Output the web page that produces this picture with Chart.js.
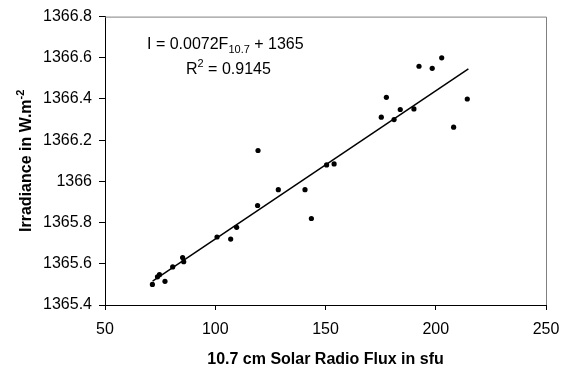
<!DOCTYPE html>
<html>
<head>
<meta charset="utf-8">
<script src="https://cdn.jsdelivr.net/npm/chart.js@4.4.1/dist/chart.umd.min.js"></script>
<style>
  html, body { margin: 0; padding: 0; background: #fff; }
  #chart { display: block; }
</style>
</head>
<body>
<canvas id="chart" width="574" height="368"></canvas>
<script>
// solar radio flux (sfu) and irradiance (W/m2)
const flux = [71.5, 73.8, 74.7, 77.2, 80.7, 85.2, 85.7, 100.8, 107, 109.7, 119.2, 119.4, 128.6,
    140.7, 143.6, 150.5, 153.9, 175.3, 177.6, 181.1, 183.9, 190.1, 192.4, 198.4, 202.7, 208.1, 214.3];
const irradiance = [1365.50, 1365.537, 1365.547, 1365.515, 1365.585, 1365.63, 1365.61, 1365.73, 1365.72,
    1365.777, 1365.883, 1366.15, 1365.96, 1365.96, 1365.82, 1366.08, 1366.085, 1366.312, 1366.408,
    1366.30, 1366.349, 1366.352, 1366.559, 1366.549, 1366.60, 1366.263, 1366.40];

// linear fit shown on the chart
const fitSlope = 0.0072;
const fitIntercept = 1365.0;
const fitRange = [71.6, 214.8];

const xTicks = [50, 100, 150, 200, 250];
const yTicks = [1365.4, 1365.6, 1365.8, 1366, 1366.2, 1366.4, 1366.6, 1366.8];

const FONT = '"Liberation Sans", Arial, sans-serif';

const points = flux.map((f, i) => ({ x: f, y: irradiance[i] }));
const fitLine = fitRange.map(f => ({ x: f, y: fitSlope * f + fitIntercept }));

// draws the frame, axis titles and the equation (needs super/subscripts)
const extras = {
    id: 'extras',
    beforeDatasetsDraw(chart) {
        const { ctx, chartArea: a } = chart;
        ctx.save();
        ctx.strokeStyle = '#808080';
        ctx.lineWidth = 1;
        ctx.beginPath();
        ctx.moveTo(a.left, a.top + 0.5);
        ctx.lineTo(a.right + 0.5, a.top + 0.5);
        ctx.lineTo(a.right + 0.5, a.bottom);
        ctx.stroke();
        ctx.restore();
    },
    afterDraw(chart) {
        const { ctx, chartArea: a } = chart;
        ctx.save();
        ctx.fillStyle = '#000';
        ctx.textBaseline = 'alphabetic';

        // x title
        ctx.font = 'bold 16px ' + FONT;
        ctx.textAlign = 'center';
        ctx.fillText('10.7 cm Solar Radio Flux in sfu', (a.left + a.right) / 2, 364);

        // y title
        ctx.save();
        ctx.translate(31, (a.top + a.bottom) / 2);
        ctx.rotate(-Math.PI / 2);
        ctx.textAlign = 'left';
        const main = 'Irradiance in W.m';
        ctx.font = 'bold 16px ' + FONT;
        const w1 = ctx.measureText(main).width;
        ctx.font = 'bold 11px ' + FONT;
        const w2 = ctx.measureText('-2').width;
        let x0 = -(w1 + w2) / 2;
        ctx.font = 'bold 16px ' + FONT;
        ctx.fillText(main, x0, 0);
        ctx.font = 'bold 11px ' + FONT;
        ctx.fillText('-2', x0 + w1, -7);
        ctx.restore();

        // equation
        ctx.textAlign = 'left';
        let x = 147;
        ctx.font = '16px ' + FONT;
        ctx.fillText('I = 0.0072F', x, 49);
        x += ctx.measureText('I = 0.0072F').width;
        ctx.font = '11px ' + FONT;
        ctx.fillText('10.7', x, 53);
        x += ctx.measureText('10.7').width;
        ctx.font = '16px ' + FONT;
        ctx.fillText(' + 1365', x, 49);

        x = 186;
        ctx.fillText('R', x, 74);
        x += ctx.measureText('R').width;
        ctx.font = '11px ' + FONT;
        ctx.fillText('2', x, 67);
        x += ctx.measureText('2').width;
        ctx.font = '16px ' + FONT;
        ctx.fillText(' = 0.9145', x, 74);
        ctx.restore();
    }
};

new Chart(document.getElementById('chart'), {
    type: 'scatter',
    data: {
        datasets: [
            {
                data: points,
                backgroundColor: '#000',
                borderColor: '#000',
                pointRadius: 2.6,
                pointBorderWidth: 0
            },
            {
                data: fitLine,
                showLine: true,
                borderColor: '#000',
                borderWidth: 1.5,
                pointRadius: 0,
                fill: false
            }
        ]
    },
    options: {
        responsive: false,
        animation: false,
        layout: { padding: { left: 0, top: 13, right: 28, bottom: 0 } },
        plugins: {
            legend: { display: false },
            tooltip: { enabled: false }
        },
        scales: {
            x: {
                type: 'linear',
                min: 50,
                max: 250,
                afterBuildTicks: s => { s.ticks = xTicks.map(v => ({ value: v })); },
                afterFit: s => { s.height = 63; },
                border: { color: '#000', width: 1 },
                grid: { drawOnChartArea: false, color: '#000', tickLength: 5 },
                ticks: {
                    color: '#000',
                    font: { family: FONT, size: 16 },
                    padding: 10,
                    maxRotation: 0
                }
            },
            y: {
                type: 'linear',
                min: 1365.4,
                max: 1366.8,
                afterBuildTicks: s => { s.ticks = yTicks.map(v => ({ value: v })); },
                afterFit: s => { s.width = 105; },
                border: { color: '#000', width: 1 },
                grid: { drawOnChartArea: false, color: '#000', tickLength: 6 },
                ticks: {
                    color: '#000',
                    font: { family: FONT, size: 16 },
                    padding: 7,
                    callback: v => String(Number(v.toFixed(1)))
                }
            }
        }
    },
    plugins: [extras]
});
</script>
</body>
</html>
